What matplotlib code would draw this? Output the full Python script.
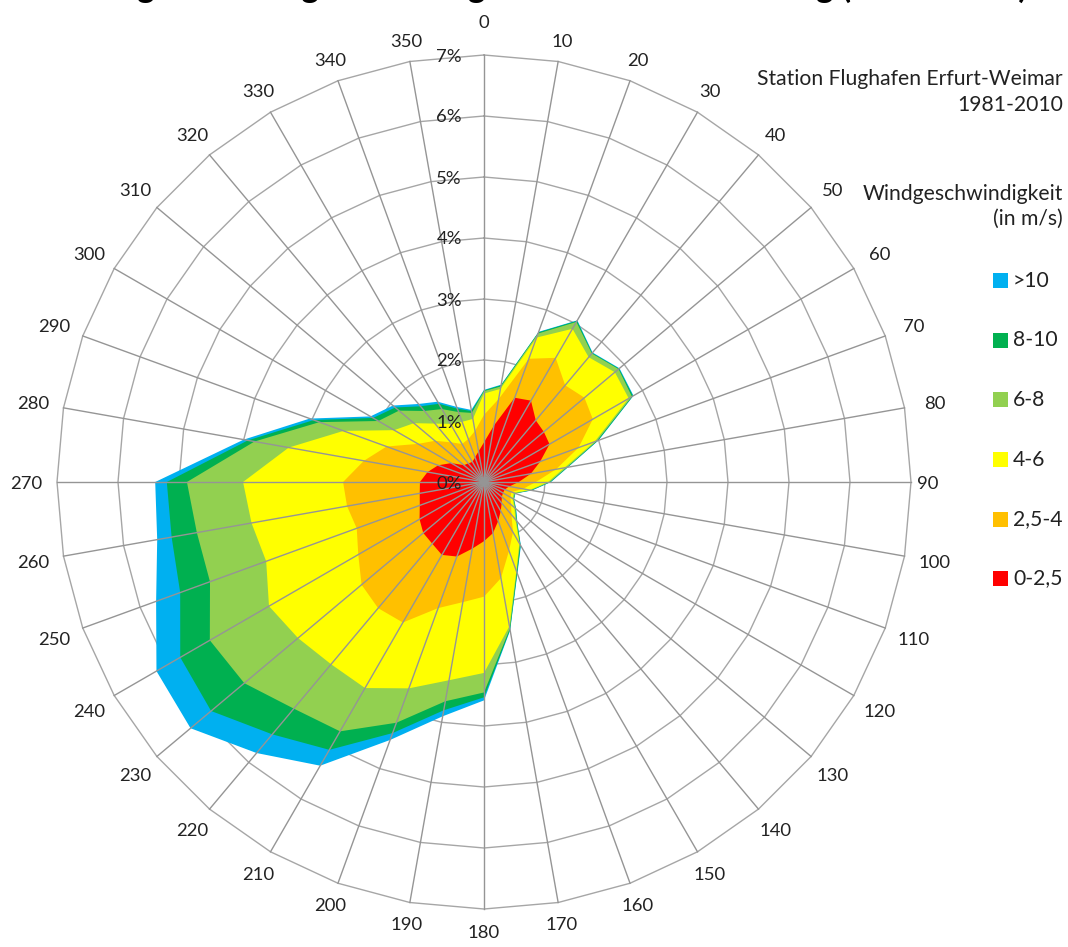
import numpy as np
import matplotlib
matplotlib.use("Agg")
import matplotlib.pyplot as plt
from matplotlib.patches import Rectangle

plt.rcParams['font.family'] = ['Lato', 'DejaVu Sans']

### DATA ###
# Windrichtung in Grad
richtung = np.arange(0, 360, 10)

# kumulierte Haeufigkeit in % (aeussere Grenze jeder Klasse)
kum_0_25 = [0.65, 0.94, 1.47, 1.54, 1.32, 1.28, 1.24, 0.98, 0.78, 0.57, 0.42, 0.36,
            0.36, 0.38, 0.45, 0.55, 0.68, 0.85, 0.97, 1.11, 1.30, 1.38, 1.32, 1.30,
            1.22, 1.12, 1.07, 1.05, 0.94, 0.80, 0.62, 0.43, 0.40, 0.38, 0.43, 0.51]
kum_25_4 = [1.10, 1.38, 2.15, 2.35, 2.07, 2.15, 2.06, 1.65, 1.20, 0.85, 0.65, 0.48,
            0.50, 0.58, 0.70, 0.95, 1.20, 1.60, 1.88, 2.00, 2.20, 2.66, 2.70, 2.62,
            2.38, 2.22, 2.28, 2.31, 2.00, 1.70, 1.25, 1.05, 0.85, 0.72, 0.75, 0.85]
kum_4_6 = [1.45, 1.55, 2.52, 2.90, 2.67, 2.80, 2.74, 1.93, 1.34, 1.05, 0.76, 0.52,
           0.54, 0.65, 0.80, 1.16, 1.55, 2.40, 3.13, 3.30, 3.60, 3.90, 3.90, 3.98,
           4.07, 3.80, 3.87, 3.95, 3.25, 2.45, 1.70, 1.50, 1.25, 1.10, 1.05, 1.05]
kum_6_8 = [1.49, 1.59, 2.59, 3.03, 2.75, 2.88, 2.80, 1.97, 1.38, 1.08, 0.78, 0.54,
           0.56, 0.67, 0.83, 1.18, 1.57, 2.44, 3.45, 3.65, 4.20, 4.72, 4.85, 5.13,
           5.19, 4.78, 4.78, 4.87, 3.82, 2.87, 2.00, 1.82, 1.52, 1.38, 1.22, 1.15]
kum_8_10 = [1.50, 1.61, 2.61, 3.05, 2.76, 2.89, 2.82, 1.99, 1.39, 1.09, 0.79, 0.545,
            0.565, 0.68, 0.84, 1.20, 1.59, 2.46, 3.53, 3.80, 4.38, 5.07, 5.40, 5.84,
            5.75, 5.30, 5.20, 5.20, 3.93, 2.97, 2.10, 1.90, 1.62, 1.48, 1.28, 1.18]
kum_10 = [1.51, 1.62, 2.62, 3.06, 2.77, 2.90, 2.83, 2.00, 1.40, 1.10, 0.80, 0.55,
          0.57, 0.69, 0.85, 1.21, 1.60, 2.47, 3.58, 3.90, 4.50, 5.37, 5.80, 6.28,
          6.20, 5.72, 5.44, 5.39, 4.00, 3.04, 2.15, 1.95, 1.67, 1.52, 1.31, 1.20]

klassen = ['>10', '8-10', '6-8', '4-6', '2,5-4', '0-2,5']
farben = ['#00B0F0', '#00B050', '#92D050', '#FFFF00', '#FFC000', '#FF0000']
serien = [kum_10, kum_8_10, kum_6_8, kum_4_6, kum_25_4, kum_0_25]

ringe = np.arange(0, 8)

### PLOT ###
W, H = 1068, 947
cx, cy = 484, 482          # mitte in pixel
px = 61.0                  # pixel pro %

fig = plt.figure(figsize=(W / 100, H / 100), dpi=100)
ax = fig.add_axes([0, 0, 1, 1])
ax.set_xlim(-cx / px, (W - cx) / px)
ax.set_ylim(-(H - cy) / px, cy / px)
ax.axis('off')

theta = np.deg2rad(richtung)
sx, sy = np.sin(theta), np.cos(theta)

def schliessen(a):
    return np.append(a, a[0])

# ringe (polygone wie excel netzdiagramm)
for r in ringe[1:]:
    ax.plot(schliessen(r * sx), schliessen(r * sy), color='#a6a6a6', lw=1.0, zorder=1)

# flaechen, groesste zuerst
for i, (s, c) in enumerate(zip(serien, farben)):
    s = np.asarray(s)
    ax.fill(s * sx, s * sy, color=c, lw=0, zorder=2 + i)

# speichen
rmax = ringe[-1]
for a, b in zip(sx, sy):
    ax.plot([0, rmax * a], [0, rmax * b], color='#959595', lw=1.0, zorder=10)

# prozent-beschriftung
for r in ringe:
    ax.text(-22 / px, r - 1.5 / px, f"{r}%", ha='right', va='center',
            fontsize=13.3, color='#222222', zorder=12)

# richtungs-beschriftung
sonder = {0: 460, 90: 444, 180: 450}
for d, a, b in zip(richtung, sx, sy):
    rp = sonder.get(int(d), 446 + 12 * abs(a))
    ax.text(rp / px * a, rp / px * b - 1.5 / px, str(d), ha='center', va='center',
            fontsize=13.3, color='#222222')

# titel (oben abgeschnitten wie im original)
fig.text(1027 / W, 1 + 2.5 / H, "Häufigkeitsverteilung der Windgeschwindigkeit nach Windrichtung (1981-2010)",
         ha='right', va='baseline', fontsize=24, fontweight='bold', color='black')

# textfelder rechts
fig.text(1063 / W, 1 - 79 / H, "Station Flughafen Erfurt-Weimar", ha='right', va='center',
         fontsize=15.2, color='#222222')
fig.text(1063 / W, 1 - 105 / H, "1981-2010", ha='right', va='center',
         fontsize=15.2, color='#222222')
fig.text(1063 / W, 1 - 194 / H, "Windgeschwindigkeit", ha='right', va='center',
         fontsize=15.2, color='#222222')
fig.text(1063 / W, 1 - 219 / H, "(in m/s)", ha='right', va='center',
         fontsize=15.2, color='#222222')

# legende
for i, (lab, c) in enumerate(zip(klassen, farben)):
    ymid = 281 + i * 59.5
    fig.patches.append(Rectangle((993 / W, 1 - (ymid + 7.5) / H), 15 / W, 15 / H,
                                 transform=fig.transFigure, color=c, lw=0))
    fig.text(1013 / W, 1 - ymid / H, lab, ha='left', va='center',
             fontsize=15.2, color='#222222')

fig.savefig('out.png', dpi=100)
